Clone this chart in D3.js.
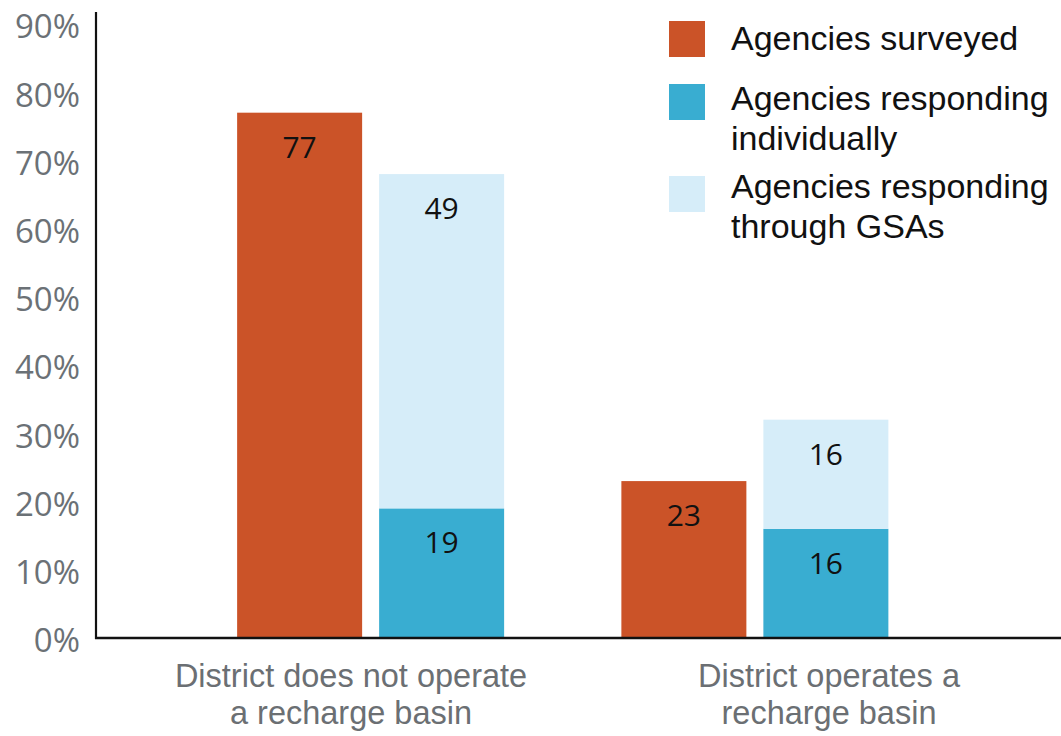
<!DOCTYPE html>
<html>
<head>
<meta charset="utf-8">
<script src="https://cdn.jsdelivr.net/npm/d3@7"></script>
<style>
  html, body { margin: 0; padding: 0; background: #fff; }
  svg { display: block; }
</style>
</head>
<body>
<svg id="chart" width="1061" height="736"></svg>
<script>
// Groups along the x axis (each label split into two lines)
const categories = ["not", "operates"];
const categoryLabels = [
  ["District does not operate", "a recharge basin"],
  ["District operates a", "recharge basin"]
];

// Share of agencies (%) in each group
const surveyed = [77, 23];
const respondingIndividually = [19, 16];
const respondingThroughGSAs = [49, 16];

// Legend entries
const seriesNames = ["Agencies surveyed", "Agencies responding individually", "Agencies responding through GSAs"];
const legendLines = [
  ["Agencies surveyed"],
  ["Agencies responding", "individually"],
  ["Agencies responding", "through GSAs"]
];

// Y axis ticks
const yTicks = [0, 10, 20, 30, 40, 50, 60, 70, 80, 90];

const colors = {
  surveyed: "#cb5328",
  individual: "#39add1",
  gsa: "#d6edf9"
};

const svg = d3.select("#chart");
const sansFont = "'Open Sans', Lato, sans-serif";
const axisFont = "'Liberation Sans', Arial, sans-serif";

const axisX = 96, baseY = 638;

const y = d3.scaleLinear().domain([0, 90]).range([baseY, 24]);

// Bar groups
const x0 = d3.scaleBand().domain(categories).range([178.5, 947]);
const x1 = d3.scaleBand().domain(["surveyed", "responding"])
  .range([x0.bandwidth() / 2 - 133.5, x0.bandwidth() / 2 + 133.5])
  .paddingInner(17 / 142);

// Category labels sit on their own band scale spanning the full width
const xLabel = d3.scaleBand().domain(categories).range([112, 1068]);

// Y axis labels
const yAxis = d3.axisLeft(y).tickValues(yTicks).tickSize(0).tickPadding(16)
  .tickFormat(d => d + "%");
const yg = svg.append("g").attr("transform", `translate(${axisX},0)`).call(yAxis);
yg.select(".domain").remove();
yg.selectAll("text")
  .attr("dy", "0.42em")
  .attr("font-family", sansFont)
  .attr("font-size", 33)
  .attr("fill", "#6b7176");

// Bars
const rows = categories.map((c, i) => ({
  cat: c,
  surveyed: surveyed[i],
  individual: respondingIndividually[i],
  gsa: respondingThroughGSAs[i]
}));

const groups = svg.selectAll("g.grp").data(rows).join("g")
  .attr("class", "grp")
  .attr("transform", d => `translate(${x0(d.cat)},0)`);

const bw = x1.bandwidth();

// Surveyed bar
groups.append("rect")
  .attr("x", x1("surveyed"))
  .attr("width", bw)
  .attr("y", d => y(d.surveyed))
  .attr("height", d => y(0) - y(d.surveyed))
  .attr("fill", colors.surveyed);

// Stacked responding bar: individual at bottom, GSAs on top
groups.append("rect")
  .attr("x", x1("responding"))
  .attr("width", bw)
  .attr("y", d => y(d.individual))
  .attr("height", d => y(0) - y(d.individual))
  .attr("fill", colors.individual);

groups.append("rect")
  .attr("x", x1("responding"))
  .attr("width", bw)
  .attr("y", d => y(d.individual + d.gsa))
  .attr("height", d => y(d.individual) - y(d.individual + d.gsa))
  .attr("fill", colors.gsa);

// Value labels inside bars
function valueLabel(sel, xKey, topFn, valFn) {
  sel.append("text")
    .attr("x", x1(xKey) + bw / 2)
    .attr("y", d => y(topFn(d)) + 45)
    .attr("text-anchor", "middle")
    .attr("font-family", sansFont)
    .attr("font-size", 30)
    .attr("fill", "#111")
    .text(valFn);
}
valueLabel(groups, "surveyed", d => d.surveyed, d => d.surveyed);
valueLabel(groups, "responding", d => d.individual, d => d.individual);
valueLabel(groups, "responding", d => d.individual + d.gsa, d => d.gsa);

// Axis lines
svg.append("line")
  .attr("x1", axisX).attr("x2", axisX)
  .attr("y1", 12).attr("y2", baseY + 1)
  .attr("stroke", "#111").attr("stroke-width", 2.2);
svg.append("line")
  .attr("x1", axisX - 1).attr("x2", 1061)
  .attr("y1", baseY).attr("y2", baseY)
  .attr("stroke", "#111").attr("stroke-width", 2.6);

// Category labels
const xAxis = d3.axisBottom(xLabel).tickSize(0).tickFormat(() => "");
const xg = svg.append("g").attr("transform", `translate(0,${baseY})`).call(xAxis);
xg.select(".domain").remove();
xg.selectAll(".tick").each(function(d, i) {
  const t = d3.select(this).select("text")
    .attr("y", 0).attr("dy", null)
    .attr("font-family", axisFont)
    .attr("font-size", 32.5)
    .attr("fill", "#6b6f73");
  categoryLabels[i].forEach((line, k) => {
    t.append("tspan").attr("x", 0).attr("y", 49 + k * 37).text(line);
  });
});

// Legend
const legendColors = [colors.surveyed, colors.individual, colors.gsa];
const legendRectY = [21, 84, 176];
const legendTextY = [50, 110, 198];
const legend = svg.append("g");
seriesNames.forEach((name, i) => {
  const g = legend.append("g").attr("class", "legend-item").attr("data-name", name);
  g.append("rect")
    .attr("x", 669).attr("y", legendRectY[i])
    .attr("width", 36).attr("height", 36)
    .attr("fill", legendColors[i]);
  const t = g.append("text")
    .attr("font-family", axisFont)
    .attr("font-size", 34)
    .attr("fill", "#111");
  legendLines[i].forEach((line, k) => {
    t.append("tspan").attr("x", 731).attr("y", legendTextY[i] + k * 40).text(line);
  });
});
</script>
</body>
</html>
